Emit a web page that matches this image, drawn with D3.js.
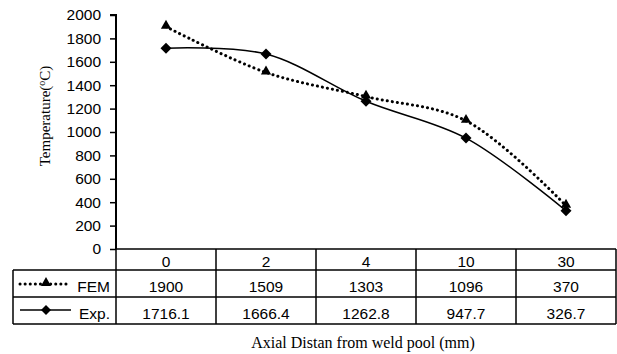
<!DOCTYPE html>
<html>
<head>
<meta charset="utf-8">
<script src="https://cdn.jsdelivr.net/npm/d3@7"></script>
<style>
  body { margin: 0; background: #fff; }
  text { fill: #000; }
</style>
</head>
<body>
<svg width="617" height="354"></svg>
<script>
var categories = ["0", "2", "4", "10", "30"];
var femValues = [1900, 1509, 1303, 1096, 370];
var expValues = [1716.1, 1666.4, 1262.8, 947.7, 326.7];
var expLabels = ["1716.1", "1666.4", "1262.8", "947.7", "326.7"];
var yTicks = [0, 200, 400, 600, 800, 1000, 1200, 1400, 1600, 1800, 2000];

var svg = d3.select("svg");
var plotL = 116, plotR = 616, plotT = 15, plotB = 249;

var x = d3.scaleBand().domain(categories).range([plotL, plotR]);
var y = d3.scaleLinear().domain([0, 2000]).range([plotB, plotT]);
var cx = function(i) { return x(categories[i]) + x.bandwidth() / 2; };

// y axis
var yAxis = svg.append("g")
    .attr("transform", "translate(" + plotL + ",0)")
    .call(d3.axisLeft(y).tickValues(yTicks).tickSize(6).tickPadding(9).tickFormat(d3.format("d")));
yAxis.select(".domain").attr("stroke-width", 2).attr("d", "M-6," + plotT + "H0V" + plotB);
yAxis.selectAll(".tick line").attr("stroke-width", 1.5);
yAxis.selectAll("text").style("font-family", "Liberation Sans, Arial").style("font-size", "15.5px");

svg.append("text")
    .attr("transform", "translate(50,116) rotate(-90)")
    .attr("text-anchor", "middle")
    .style("font-family", "Liberation Serif, Times New Roman").style("font-size", "15px")
    .call(function(t) {
        t.append("tspan").text("Temperature(");
        t.append("tspan").text("o").attr("dy", -5).style("font-size", "10px");
        t.append("tspan").text("C)").attr("dy", 5);
    });

// series lines
var line = d3.line()
    .x(function(d, i) { return cx(i); })
    .y(function(d) { return y(d); })
    .curve(d3.curveCatmullRom.alpha(0.5));

svg.append("path").attr("d", line(expValues))
    .attr("fill", "none").attr("stroke", "#000").attr("stroke-width", 1.5);
svg.append("path").attr("d", line(femValues))
    .attr("fill", "none").attr("stroke", "#000").attr("stroke-width", 3)
    .attr("stroke-dasharray", "0.1,5").attr("stroke-linecap", "round");

var tri = d3.symbol().type(d3.symbolTriangle).size(45);
var dia = function(px, py, r) {
    return "M" + px + "," + (py - r) + "L" + (px + r) + "," + py + "L" + px + "," + (py + r) + "L" + (px - r) + "," + py + "Z";
};

svg.selectAll(".expm").data(expValues).enter().append("path")
    .attr("d", function(d, i) { return dia(cx(i), y(d), 5.5); })
    .attr("fill", "#000");
svg.selectAll(".femm").data(femValues).enter().append("path")
    .attr("transform", function(d, i) { return "translate(" + cx(i) + "," + (y(d) - 1) + ")"; })
    .attr("d", tri).attr("fill", "#000");

// data table
var tLeft = 13, r0 = 249, r1 = 270, r2 = 297, r3 = 324;
var g = svg.append("g").attr("stroke", "#000").attr("stroke-width", 1.5).attr("fill", "none");
g.append("line").attr("x1", plotL).attr("x2", plotR).attr("y1", r0).attr("y2", r0);
[r1, r2, r3].forEach(function(r) {
    g.append("line").attr("x1", tLeft).attr("x2", plotR).attr("y1", r).attr("y2", r);
});
g.append("line").attr("x1", tLeft).attr("x2", tLeft).attr("y1", r1).attr("y2", r3);
categories.forEach(function(c) {
    g.append("line").attr("x1", x(c)).attr("x2", x(c)).attr("y1", r0).attr("y2", r3);
});
g.append("line").attr("x1", plotR).attr("x2", plotR).attr("y1", r0).attr("y2", r3);

var cellFont = function(s) { s.style("font-family", "Liberation Sans, Arial").style("font-size", "15.5px").attr("text-anchor", "middle"); };
svg.selectAll(".hdr").data(categories).enter().append("text")
    .attr("x", function(d, i) { return cx(i); }).attr("y", r1 - 3).text(function(d) { return d; }).call(cellFont);
svg.selectAll(".fem").data(femValues).enter().append("text")
    .attr("x", function(d, i) { return cx(i); }).attr("y", r2 - 5).text(function(d) { return d; }).call(cellFont);
svg.selectAll(".exp").data(expLabels).enter().append("text")
    .attr("x", function(d, i) { return cx(i); }).attr("y", r3 - 5).text(function(d) { return d; }).call(cellFont);

// legend keys
svg.append("line").attr("x1", 20).attr("x2", 70).attr("y1", 284).attr("y2", 284)
    .attr("stroke", "#000").attr("stroke-width", 3).attr("stroke-dasharray", "0.1,5").attr("stroke-linecap", "round");
svg.append("path").attr("transform", "translate(46,283)").attr("d", tri).attr("fill", "#000");
svg.append("line").attr("x1", 20).attr("x2", 71).attr("y1", 310).attr("y2", 310)
    .attr("stroke", "#000").attr("stroke-width", 1.5);
svg.append("path").attr("d", dia(46, 310, 5)).attr("fill", "#000");
svg.append("text").attr("x", 110).attr("y", r2 - 5).attr("text-anchor", "end")
    .style("font-family", "Liberation Sans, Arial").style("font-size", "15.5px").text("FEM");
svg.append("text").attr("x", 110).attr("y", r3 - 5).attr("text-anchor", "end")
    .style("font-family", "Liberation Sans, Arial").style("font-size", "15.5px").text("Exp.");

svg.append("text").attr("x", 363).attr("y", 348).attr("text-anchor", "middle")
    .style("font-family", "Liberation Serif, Times New Roman").style("font-size", "16px")
    .text("Axial Distan from weld pool (mm)");
</script>
</body>
</html>
